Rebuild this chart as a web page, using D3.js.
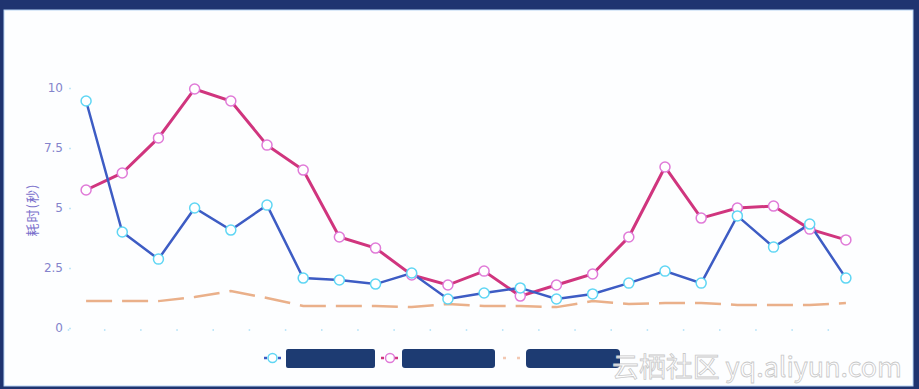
<!DOCTYPE html>
<html>
<head>
<meta charset="utf-8">
<script src="https://cdn.jsdelivr.net/npm/d3@7"></script>
<style>
  html, body { margin: 0; padding: 0; background: #1f3470; }
  svg { display: block; }
</style>
</head>
<body>
<div class="chart"></div>
<script>
// values, one per category slot
var categories = d3.range(22);
var seriesA = [9.46, 4.0, 2.87, 5.0, 4.08, 5.12, 2.08, 2.0, 1.83, 2.29, 1.21,
               1.46, 1.67, 1.21, 1.42, 1.87, 2.37, 1.87, 4.67, 3.37, 4.33, 2.08];
var seriesB = [5.75, 6.46, 7.92, 9.96, 9.46, 7.62, 6.58, 3.79, 3.33, 2.21, 1.79,
               2.37, 1.33, 1.79, 2.25, 3.79, 6.71, 4.58, 5.0, 5.08, 4.12, 3.67];
var seriesC = [1.12, 1.12, 1.12, 1.29, 1.54, 1.25, 0.92, 0.92, 0.92, 0.87, 1.0,
               0.92, 0.92, 0.87, 1.12, 1.0, 1.04, 1.04, 0.96, 0.96, 0.96, 1.04];
var yTicks = [0, 2.5, 5, 7.5, 10];
var yTickLabels = ["0", "2.5", "5", "7.5", "10"];
var yTitle = "耗时(秒)";

var svgWidth = 919;
var svgHeight = 389;

var svg = d3.select(".chart")
  .append("svg")
  .attr("width", svgWidth)
  .attr("height", svgHeight);

// screen frame
svg.append("rect")
  .attr("x", 4).attr("y", 10)
  .attr("width", 909).attr("height", 376)
  .attr("fill", "#fdfeff")
  .attr("stroke", "#b8d4f4")
  .attr("stroke-width", 1);

var x = d3.scaleLinear()
  .domain([0, 22])
  .range([68, 864]);

var y = d3.scaleLinear()
  .domain([0, 10])
  .range([328, 88]);

// x axis: only small tick dots
var xAxis = d3.axisBottom(x)
  .tickValues(d3.range(22))
  .tickSize(2)
  .tickFormat("");

var gx = svg.append("g")
  .attr("transform", "translate(0, 329)")
  .call(xAxis);
gx.select(".domain").remove();
gx.selectAll(".tick line").attr("stroke", "#bfe6f8").attr("stroke-width", 1.5);

// y axis
var yAxis = d3.axisLeft(y)
  .tickValues(yTicks)
  .tickSize(2)
  .tickPadding(6)
  .tickFormat((d, i) => yTickLabels[i]);

var gy = svg.append("g")
  .attr("transform", "translate(71, 0)")
  .call(yAxis);
gy.select(".domain").remove();
gy.selectAll(".tick line").attr("stroke", "#bfe6f8").attr("stroke-width", 1.5);
gy.selectAll(".tick text")
  .attr("fill", "#8484cc")
  .attr("font-family", "DejaVu Sans")
  .attr("font-size", 12);

svg.append("text")
  .attr("transform", "translate(37, 210) rotate(-90)")
  .attr("text-anchor", "middle")
  .attr("fill", "#7a70cc")
  .attr("font-family", "Noto Sans CJK SC")
  .attr("font-size", 13)
  .attr("letter-spacing", 1)
  .text(yTitle);

var line = d3.line()
  .x((d, i) => x(i + 0.5))
  .y(d => y(d));

// dashed orange series
svg.append("path")
  .datum(seriesC)
  .attr("d", line)
  .attr("fill", "none")
  .attr("stroke", "#eab08a")
  .attr("stroke-width", 2.5)
  .attr("stroke-dasharray", "26,10");

svg.append("path")
  .datum(seriesB)
  .attr("d", line)
  .attr("fill", "none")
  .attr("stroke", "#d0357e")
  .attr("stroke-width", 3);

svg.append("path")
  .datum(seriesA)
  .attr("d", line)
  .attr("fill", "none")
  .attr("stroke", "#3d5cc4")
  .attr("stroke-width", 2.5);

svg.append("g").selectAll("circle")
  .data(seriesB)
  .enter()
  .append("circle")
  .attr("cx", (d, i) => x(i + 0.5))
  .attr("cy", d => y(d))
  .attr("r", 5)
  .attr("fill", "#ffffff")
  .attr("stroke", "#e07ad8")
  .attr("stroke-width", 1.5);

svg.append("g").selectAll("circle")
  .data(seriesA)
  .enter()
  .append("circle")
  .attr("cx", (d, i) => x(i + 0.5))
  .attr("cy", d => y(d))
  .attr("r", 5)
  .attr("fill", "#ffffff")
  .attr("stroke", "#5fd6f4")
  .attr("stroke-width", 1.5);

// legend (labels are blacked out in the picture)
var legend = svg.append("g").attr("transform", "translate(0, 358)");

legend.append("line")
  .attr("x1", 264).attr("x2", 281)
  .attr("stroke", "#3d5cc4").attr("stroke-width", 2.5)
  .attr("stroke-dasharray", "3,11");
legend.append("circle")
  .attr("cx", 272.5).attr("r", 4.5)
  .attr("fill", "#fff").attr("stroke", "#5fd6f4").attr("stroke-width", 1.5);
legend.append("rect")
  .attr("x", 286).attr("y", -9).attr("width", 89).attr("height", 19)
  .attr("rx", 2).attr("fill", "#1d3b72");

legend.append("line")
  .attr("x1", 381).attr("x2", 398)
  .attr("stroke", "#d0357e").attr("stroke-width", 2.5)
  .attr("stroke-dasharray", "3,11");
legend.append("circle")
  .attr("cx", 390).attr("r", 4.5)
  .attr("fill", "#fff").attr("stroke", "#e07ad8").attr("stroke-width", 1.5);
legend.append("rect")
  .attr("x", 402).attr("y", -9).attr("width", 93).attr("height", 19)
  .attr("rx", 3).attr("fill", "#1d3b72");

legend.append("line")
  .attr("x1", 503).attr("x2", 520)
  .attr("stroke", "#f2c8b2").attr("stroke-width", 2.5)
  .attr("stroke-dasharray", "3,11");
legend.append("rect")
  .attr("x", 526).attr("y", -9).attr("width", 94).attr("height", 19)
  .attr("rx", 4).attr("fill", "#1d3b72");

// watermark
svg.append("text")
  .attr("x", 612).attr("y", 377)
  .attr("fill", "#ffffff")
  .attr("fill-opacity", 0.85)
  .attr("stroke", "#c8c8c8")
  .attr("stroke-width", 0.8)
  .attr("font-family", "Noto Sans CJK SC")
  .attr("font-size", 27)
  .attr("textLength", 290)
  .attr("lengthAdjust", "spacingAndGlyphs")
  .text("云栖社区 yq.aliyun.com");
</script>
</body>
</html>
